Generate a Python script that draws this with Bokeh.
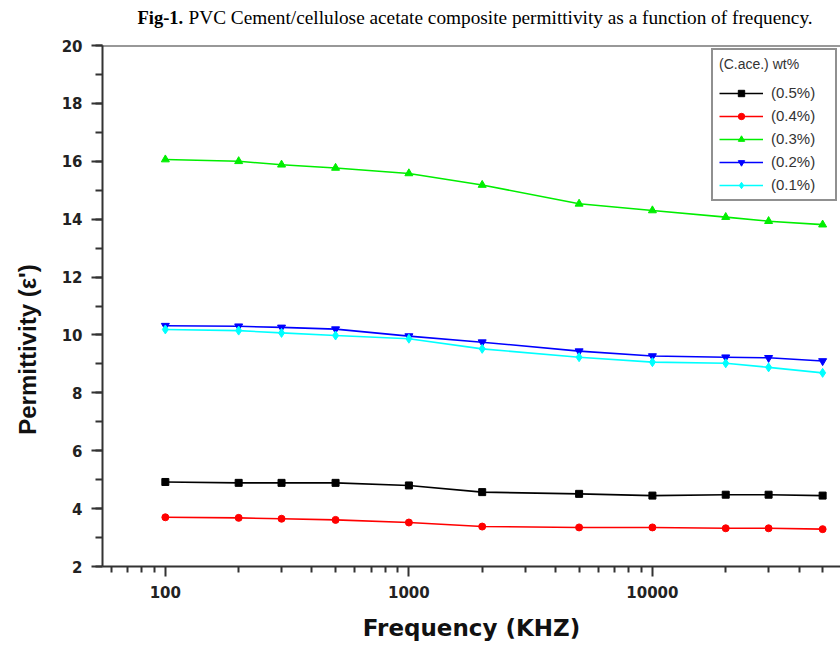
import math
from bokeh.plotting import figure
from bokeh.models import (FixedTicker, SingleIntervalTicker, NumeralTickFormatter, Span,
                          Legend, LegendItem, Label, Range1d)
from bokeh.embed import file_html
from bokeh.resources import INLINE

freq = [100, 200, 300, 500, 1000, 2000, 5000, 10000, 20000, 30000, 50000]
c05 = [4.92, 4.89, 4.89, 4.89, 4.80, 4.57, 4.51, 4.45, 4.48, 4.48, 4.45]
c04 = [3.70, 3.68, 3.65, 3.61, 3.52, 3.38, 3.35, 3.35, 3.32, 3.32, 3.29]
c03 = [16.06, 16.00, 15.88, 15.77, 15.58, 15.18, 14.53, 14.30, 14.07, 13.93, 13.81]
c02 = [10.32, 10.30, 10.26, 10.20, 9.96, 9.75, 9.44, 9.27, 9.23, 9.21, 9.10]
c01 = [10.19, 10.15, 10.07, 9.98, 9.87, 9.52, 9.23, 9.06, 9.02, 8.88, 8.69]

series_names = ["(0.5%)", "(0.4%)", "(0.3%)", "(0.2%)", "(0.1%)"]
series_vals = [c05, c04, c03, c02, c01]
colors = ["#000000", "#FF0000", "#00EE00", "#0000FF", "#00FFFF"]
markers = ["square", "circle", "triangle", "inverted_triangle", "diamond"]
msizes = [7, 7, 8, 8, 9]

x_major = [100, 1000, 10000]
x_minor = [60, 70, 80, 90, 200, 300, 400, 500, 600, 700, 800, 900,
           2000, 3000, 4000, 5000, 6000, 7000, 8000, 9000,
           20000, 30000, 40000, 50000]

p = figure(width=840, height=648, x_axis_type="log", output_backend="svg",
           toolbar_location=None, x_range=Range1d(55.2, 59200), y_range=Range1d(2, 20),
           min_border_left=102, min_border_right=0, min_border_top=45, min_border_bottom=82)
p.outline_line_color = None
p.grid.visible = False
p.background_fill_color = "white"

items = []
for name, vals, col, mk, ms in zip(series_names, series_vals, colors, markers, msizes):
    r1 = p.line(freq, vals, line_color=col, line_width=1.6)
    r2 = p.scatter(freq, vals, marker=mk, size=ms, fill_color=col, line_color=col)
    items.append(LegendItem(label=name, renderers=[r1, r2]))

p.add_layout(Span(location=20, dimension="width", line_color="#333333", line_width=2))

ax = p.xaxis[0]
ax.ticker = FixedTicker(ticks=x_major, minor_ticks=x_minor)
ax.formatter = NumeralTickFormatter(format="0")
ax.axis_label = "Frequency (KHZ)"
ay = p.yaxis[0]
ay.ticker = SingleIntervalTicker(interval=2, num_minor_ticks=2)

for a in (ax, ay):
    a.axis_line_color = "#333333"
    a.axis_line_width = 2
    a.major_tick_line_color = "#333333"
    a.minor_tick_line_color = "#333333"
    a.major_tick_line_width = 2
    a.minor_tick_line_width = 2
    a.major_tick_in = 0
    a.minor_tick_in = 0
    a.major_label_text_font = "DejaVu Sans"
    a.major_label_text_font_style = "bold"
    a.major_label_text_font_size = "15px"
    a.major_label_text_color = "#222222"

ax.major_tick_out = 10
ax.minor_tick_out = 6
ax.major_label_standoff = 9
ax.axis_label_text_font = "DejaVu Sans"
ax.axis_label_text_font_style = "bold"
ax.axis_label_text_color = "#111111"
ax.axis_label_text_font_size = "23px"
ax.axis_label_standoff = 14

ay.major_tick_out = 11
ay.minor_tick_out = 7
ay.major_label_standoff = 9

legend = Legend(items=items, location="top_right", title="(C.ace.) wt%",
                title_text_font="Liberation Sans", title_text_font_size="14px",
                title_text_font_style="normal", title_text_color="#333333",
                label_text_font="Liberation Sans", label_text_font_size="15px",
                label_text_color="#333333", glyph_width=44, glyph_height=16,
                label_height=16, label_width=58, spacing=6, padding=6, margin=3,
                label_standoff=8, title_standoff=12,
                border_line_color="#222222", border_line_width=2,
                background_fill_alpha=1)
p.add_layout(legend)

# title: two labels in the top panel (each in its own stacked panel)
p.add_layout(Label(x=35, y=28, x_units="screen", y_units="screen", text="Fig-1.",
                   text_font="Liberation Serif", text_font_style="bold",
                   text_font_size="18.5px", text_baseline="middle", text_color="#000000"),
             "above")
p.add_layout(Label(x=86, y=8, x_units="screen", y_units="screen",
                   text="PVC Cement/cellulose acetate composite permittivity as a function of frequency.",
                   text_font="Liberation Serif", text_font_size="19.3px",
                   text_baseline="middle", text_color="#000000"),
             "above")

# y axis title in the left panel
p.add_layout(Label(x=-4, y=217, x_units="screen", y_units="screen",
                   text="Permittivity (ε')", angle=math.pi / 2,
                   text_font="Liberation Sans", text_font_style="bold",
                   text_font_size="24px", text_align="center", text_baseline="middle",
                   text_color="#111111"),
             "left")

open("out.html", "w").write(file_html(p, INLINE))
